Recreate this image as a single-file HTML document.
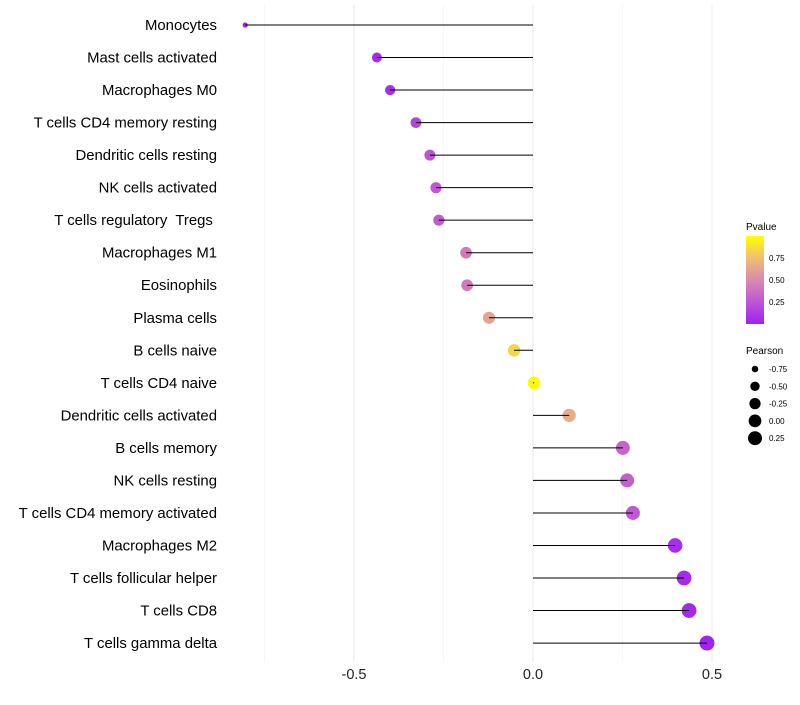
<!DOCTYPE html>
<html><head><meta charset="utf-8"><style>
body{margin:0;background:#fff;font-family:"Liberation Sans",sans-serif}
svg text{font-family:"Liberation Sans",sans-serif}
</style></head><body>
<svg id="chart" width="800" height="700" viewBox="0 0 800 700" xmlns="http://www.w3.org/2000/svg">
<defs><linearGradient id="pg" x1="0" y1="1" x2="0" y2="0">
<stop offset="0" stop-color="#A020F0"/><stop offset="0.25" stop-color="#BE55D8"/><stop offset="0.5" stop-color="#D98AAE"/><stop offset="0.75" stop-color="#EFBF72"/><stop offset="1" stop-color="#FFFF00"/></linearGradient></defs>
<g id="grid"></g>
<g id="dots"></g>
<g id="marks"></g>
<g id="ylabels"></g>
<g id="xlabels"></g>
<g>
<text x="746" y="230" font-size="10">Pvalue</text>
<rect x="746" y="236" width="18" height="88" fill="url(#pg)"/>
<text x="769" y="261" font-size="8">0.75</text>
<text x="769" y="283" font-size="8">0.50</text>
<text x="769" y="305" font-size="8">0.25</text>
</g>
<g id="sizeleg">
<text x="746" y="354" font-size="10">Pearson</text>
</g>
</svg>
<script>
const categories=["Monocytes","Mast cells activated","Macrophages M0","T cells CD4 memory resting","Dendritic cells resting","NK cells activated","T cells regulatory  Tregs ","Macrophages M1","Eosinophils","Plasma cells","B cells naive","T cells CD4 naive","Dendritic cells activated","B cells memory","NK cells resting","T cells CD4 memory activated","Macrophages M2","T cells follicular helper","T cells CD8","T cells gamma delta"];
const pearson=[-0.804,-0.436,-0.399,-0.327,-0.288,-0.271,-0.263,-0.187,-0.184,-0.123,-0.053,0.003,0.101,0.251,0.263,0.279,0.397,0.422,0.436,0.486];
const pvalue=[0.01,0.05,0.06,0.17,0.24,0.26,0.28,0.42,0.43,0.62,0.84,0.99,0.66,0.32,0.3,0.27,0.07,0.05,0.04,0.02];
const xTicks=[-0.5,0,0.5];
const xTickLabels=["-0.5","0.0","0.5"];
const xMinor=[-0.75,-0.25,0.25,0.75];
const sizeLegendValues=[-0.75,-0.5,-0.25,0,0.25];
const sizeLegendLabels=["-0.75","-0.50","-0.25","0.00","0.25"];
const NS="http://www.w3.org/2000/svg";
const X=v=>533+v*358;
const Y=i=>25+i*32.53;
const R=v=>2+5.5*Math.sqrt(Math.max(0,(v+0.82)/1.31));
const stops=[[0,[160,32,240]],[0.25,[190,85,216]],[0.5,[217,138,174]],[0.75,[239,191,114]],[1,[255,255,0]]];
function col(p){for(let k=1;k<stops.length;k++){if(p<=stops[k][0]){const a=stops[k-1],b=stops[k],t=(p-a[0])/(b[0]-a[0]);return "rgb("+a[1].map((c,j)=>Math.round(c+(b[1][j]-c)*t)).join(",")+")";}}return "rgb(255,255,0)";}
function mk(tag,attrs,parent){const e=document.createElementNS(NS,tag);for(const k in attrs)e.setAttribute(k,attrs[k]);parent.appendChild(e);return e;}
const grid=document.getElementById("grid"),marks=document.getElementById("marks"),dots=document.getElementById("dots"),yl=document.getElementById("ylabels"),xl=document.getElementById("xlabels");
xMinor.forEach(v=>{const l=mk("line",{x1:X(v),x2:X(v),y1:5,y2:662,stroke:"#f2f2f2","stroke-width":0.6},grid);

});
xTicks.forEach((v,i)=>{const l=mk("line",{x1:X(v),x2:X(v),y1:5,y2:662,stroke:"#ebebeb","stroke-width":1.1},grid);


const t=mk("text",{x:X(v),y:679,"font-size":14.5,"text-anchor":"middle",fill:"#222"},xl);t.textContent=xTickLabels[i];

});
categories.forEach((c,i)=>{const y=Y(i);
const d=mk("circle",{cx:X(pearson[i]),cy:y,r:R(pearson[i]),fill:col(pvalue[i])},dots);


const l=mk("line",{x1:X(0),x2:X(pearson[i]),y1:y,y2:y,stroke:"#000","stroke-width":1},marks);


const t=mk("text",{x:217,y:y+5,"font-size":14.9,"text-anchor":"end",fill:"#000"},yl);t.setAttribute("xml:space","preserve");t.style.whiteSpace="pre";t.textContent=c;

});
const sl=document.getElementById("sizeleg");
sizeLegendValues.forEach((v,i)=>{const y=369+i*17.3;
const c=mk("circle",{cx:755,cy:y,r:R(v),fill:"#000"},sl);


const t=mk("text",{x:769,y:y+3,"font-size":8},sl);t.textContent=sizeLegendLabels[i];

});
</script>
</body></html>
